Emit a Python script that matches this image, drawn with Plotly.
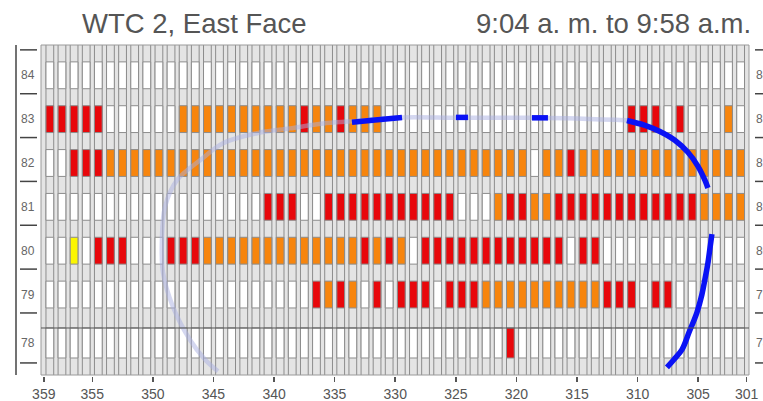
import plotly.graph_objects as go

# ---------------- data ----------------
column_numbers = list(range(359, 301, -1))          # 58 window columns, 359 ... 302
floors = [84, 83, 82, 81, 80, 79, 78]
x_tick_values = [359, 355, 350, 345, 340, 335, 330, 325, 320, 315, 310, 305, 301]

# window state per column (W = no fire, O = orange, R = red, Y = yellow)
floor_84 = "W" * 58
floor_83 = "RRRRR" + "WWWWWW" + "OOOOOOOOOO" + "R" + "OO" + "R" + "OOO" + "W" * 20 + "RRR" + "W" + "R" + "WWW" + "O" + "W"
floor_82 = "WW" + "RRR" + "O" * 35 + "W" + "OO" + "R" + "O" * 14
floor_81 = "W" * 18 + "RRR" + "WW" + "R" * 11 + "WWW" + "O" + "RR" + "OO" + "R" * 12 + "OOOO"
floor_80 = "WW" + "Y" + "W" + "RRR" + "WWW" + "RRR" + "O" * 13 + "R" + "O" + "R" + "O" + "W" + "R" * 12 + "W" + "RR" + "W" * 12
floor_79 = "W" * 22 + "ROROWR" + "W" + "RRR" + "W" + "RRR" + "O" * 10 + "RRR" + "W" + "RR" + "W" * 6
floor_78 = "W" * 38 + "R" + "W" * 19
floor_states = {84: floor_84, 83: floor_83, 82: floor_82, 81: floor_81,
                80: floor_80, 79: floor_79, 78: floor_78}

# plume track (column number, floor)
faded_cols = [310.63, 318.06, 324.66, 329.44, 333.49, 335.96, 338.69, 341.41, 344.21,
              346.11, 348.01, 349.00, 349.25, 349.16, 348.34, 346.94, 345.70, 344.63]
faded_floors = [82.97, 83.03, 83.03, 83.04, 82.95, 82.90, 82.79, 82.68, 82.45,
                82.06, 81.61, 81.00, 80.25, 79.50, 78.72, 77.97, 77.52, 77.25]
seg_a_cols = [333.57, 331.67, 329.44]
seg_a_floors = [82.93, 82.98, 83.04]
seg_b_cols = [324.99, 324.0]
seg_b_floors = [83.04, 83.04]
seg_c_cols = [318.72, 317.40]
seg_c_floors = [83.03, 83.03]
seg_d_cols = [310.88, 309.40, 308.16, 306.93, 305.85, 305.03, 304.45, 304.20]
seg_d_floors = [82.97, 82.86, 82.72, 82.52, 82.245, 81.93, 81.61, 81.43]
seg_e_cols = [303.87, 304.03, 304.20, 304.45, 304.70, 305.11, 305.77, 306.34, 307.00, 307.58]
seg_e_floors = [80.38, 80.06, 79.72, 79.34, 78.995, 78.59, 78.13, 77.745, 77.52, 77.34]

# ---------------- styling / geometry ----------------
state_colors = {"W": "#ffffff", "O": "#f7850d", "R": "#e8070b", "Y": "#fbf600"}
FONT = "Liberation Sans, Arial, sans-serif"
Y_MIN, Y_MAX = 77.165, 84.691
X_LEFT, X_RIGHT = 359.23, 300.81
PLOT_L, PLOT_W = 41, 708
BAR_W = 0.64
OUTLINE = "#8c8c8c"
MB = 25                      # bottom margin (px), axis line sits 1 px under the grid
PH = 401 - 45 - MB           # paper-referenced height
DOM0 = 1 / PH

def paper_x(px):
    return (px - PLOT_L) / PLOT_W

def paper_y(py):
    return (401 - MB - py) / PH

def window_span(f):
    if f == 78:
        return 77.553, 78.237
    return f - 0.306, f + 0.306

xs = [c - 0.5 for c in column_numbers]

fig = go.Figure()

# column outlines (full height)
fig.add_trace(go.Bar(
    x=xs, y=[Y_MAX - Y_MIN + 0.2] * len(xs), base=[Y_MIN - 0.1] * len(xs), width=BAR_W,
    marker=dict(color="#e4e4e4", line=dict(color=OUTLINE, width=1)),
    hoverinfo="skip", showlegend=False))

for f in floors:
    y0, y1 = window_span(f)
    fig.add_trace(go.Bar(
        x=xs, y=[y1 - y0] * len(xs), base=[y0] * len(xs), width=BAR_W,
        marker=dict(color=[state_colors[s] for s in floor_states[f]],
                    line=dict(color=OUTLINE, width=1)),
        hoverinfo="skip", showlegend=False))

# plume track
fig.add_trace(go.Scatter(x=faded_cols, y=faded_floors, mode="lines",
                         line=dict(color="rgba(170,176,226,0.5)", width=4.5, shape="spline"),
                         hoverinfo="skip", showlegend=False))
for cx, cy in [(seg_a_cols, seg_a_floors), (seg_b_cols, seg_b_floors),
               (seg_c_cols, seg_c_floors), (seg_d_cols, seg_d_floors),
               (seg_e_cols, seg_e_floors)]:
    fig.add_trace(go.Scatter(x=cx, y=cy, mode="lines",
                             line=dict(color="#0a12f5", width=5.5, shape="spline"),
                             hoverinfo="skip", showlegend=False))

shapes = []
# grid frame
shapes.append(dict(type="rect", xref="paper", yref="paper", x0=0, x1=1, y0=DOM0, y1=1,
                   line=dict(color="#9a9a9a", width=1), layer="above"))
# line between floors 79 and 78
shapes.append(dict(type="line", xref="paper", yref="y", x0=0, x1=1, y0=78.237, y1=78.237,
                   line=dict(color="#555555", width=1), layer="above"))
# left axis line
shapes.append(dict(type="line", xref="paper", yref="paper", x0=paper_x(16), x1=paper_x(16),
                   y0=DOM0, y1=1, line=dict(color="#444444", width=1.5)))
# floor boundary dashes
dash_levels = [f + 0.58 for f in floors] + [77.44]
for yv in dash_levels:
    shapes.append(dict(type="line", xref="paper", yref="y", x0=paper_x(20), x1=paper_x(37),
                       y0=yv, y1=yv, line=dict(color="#444444", width=1.5)))
    shapes.append(dict(type="line", xref="paper", yref="y", x0=paper_x(755), x1=paper_x(765),
                       y0=yv, y1=yv, line=dict(color="#444444", width=1.5)))

annotations = []
for f in floors:
    yc = sum(window_span(f)) / 2
    annotations.append(dict(text=str(f), xref="paper", yref="y", x=paper_x(27.5), y=yc,
                            xanchor="center", yanchor="middle", showarrow=False,
                            font=dict(family=FONT, size=12, color="#666666")))
    annotations.append(dict(text=str(f), xref="paper", yref="y", x=paper_x(754), y=yc,
                            xanchor="left", yanchor="middle", showarrow=False,
                            font=dict(family=FONT, size=12, color="#666666")))

annotations.append(dict(text="WTC 2, East Face", xref="paper", yref="paper",
                        x=paper_x(194), y=paper_y(23), xanchor="center", yanchor="middle",
                        showarrow=False, font=dict(family=FONT, size=27.5, color="#555555")))
annotations.append(dict(text="9:04 a. m. to 9:58 a.m.", xref="paper", yref="paper",
                        x=paper_x(753), y=paper_y(23), xanchor="right", yanchor="middle",
                        showarrow=False, font=dict(family=FONT, size=27.5, color="#555555")))

fig.update_layout(
    width=763, height=401,
    margin=dict(l=41, r=14, t=45, b=MB, pad=0, autoexpand=False),
    paper_bgcolor="white", plot_bgcolor="#e4e4e4",
    barmode="overlay", bargap=0,
    shapes=shapes, annotations=annotations,
    xaxis=dict(range=[X_LEFT, X_RIGHT], anchor="free", position=0, automargin=False,
               tickmode="array", tickvals=x_tick_values, ticktext=[str(v) for v in x_tick_values],
               ticks="outside", ticklen=5, tickwidth=1.5, tickcolor="#555555",
               showline=False, showgrid=False, zeroline=False,
               tickfont=dict(family=FONT, size=14, color="#555555")),
    yaxis=dict(range=[Y_MIN, Y_MAX], domain=[DOM0, 1], showticklabels=False, automargin=False,
               showgrid=False, zeroline=False, ticks=""),
)

fig.write_html("out.html", config={"displayModeBar": False, "staticPlot": True},
               post_script="document.body.style.margin='0';document.body.style.overflow='hidden';")
